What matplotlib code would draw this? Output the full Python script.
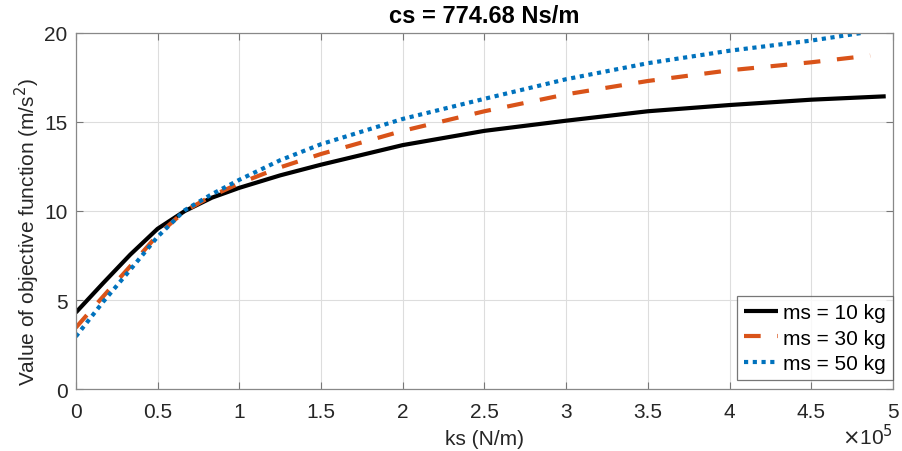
import numpy as np
import matplotlib.pyplot as plt

plt.rcParams['font.family'] = ['Liberation Sans', 'DejaVu Sans']

# ks in N/m (x10^5 axis)
ks = [0, 0.167e5, 0.333e5, 0.5e5, 0.667e5, 0.833e5, 1.0e5, 1.25e5, 1.5e5,
      2.0e5, 2.5e5, 3.0e5, 3.5e5, 4.0e5, 4.5e5]
obj_10 = [4.3, 5.95, 7.55, 9.0, 10.0, 10.75, 11.3, 12.0, 12.6,
          13.7, 14.5, 15.07, 15.6, 15.95, 16.25]
obj_30 = [3.45, 5.2, 6.9, 8.65, 10.0, 10.85, 11.55, 12.45, 13.2,
          14.5, 15.6, 16.55, 17.3, 17.9, 18.35]
obj_50 = [2.95, 4.9, 6.7, 8.55, 10.05, 10.95, 11.75, 12.85, 13.75,
          15.17, 16.3, 17.4, 18.3, 19.0, 19.57]

# last points of each curve
end_ks = [4.955e5, 4.86e5, 4.81e5]
end_obj = [16.44, 18.73, 20.0]

labels = ['ms = 10 kg', 'ms = 30 kg', 'ms = 50 kg']
colors = ['black', '#D95319', '#0072BD']

xticks = [0, 0.5, 1, 1.5, 2, 2.5, 3, 3.5, 4, 4.5, 5]
yticks = [0, 5, 10, 15, 20]

fig = plt.figure(figsize=(9.03, 4.52), dpi=100)
ax = fig.add_axes([0.084, 0.137, 0.905, 0.788])

series = [obj_10, obj_30, obj_50]
for i, s in enumerate(series):
    x = ks + [end_ks[i]]
    y = s + [end_obj[i]]
    if i == 0:
        ax.plot(x, y, color=colors[i], lw=3, label=labels[i], solid_capstyle='butt')
    elif i == 1:
        ax.plot(x, y, color=colors[i], lw=3, dashes=(4, 4), label=labels[i])
    else:
        ax.plot(x, y, color=colors[i], lw=3, dashes=(1, 1.1), label=labels[i])

ax.set_xlim(0, 5e5)
ax.set_ylim(0, 20)
ax.set_xticks([t * 1e5 for t in xticks])
ax.set_xticklabels([('%g' % t) for t in xticks])
ax.set_yticks(yticks)
ax.tick_params(direction='in', length=5, width=0.8, color='#777777',
               labelsize=15, labelcolor='#262626', top=True, right=True, pad=6)
ax.tick_params(axis='x', pad=9)
for sp in ax.spines.values():
    sp.set_color('#888888')
    sp.set_linewidth(0.9)
ax.grid(True, color='#dddddd', lw=0.8)
ax.set_axisbelow(True)

ax.set_title('cs = 774.68 Ns/m', fontsize=17, fontweight='bold', pad=8)
ax.set_xlabel('ks (N/m)', fontsize=15, color='#262626', labelpad=6)
ax.set_ylabel('Value of objective function (m/s$^2$)', fontsize=15, color='#262626')
ax.yaxis.set_label_coords(-0.041, 0.444)
ax.text(1.0, -0.155, r'$\times$10$^5$', transform=ax.transAxes, ha='right', va='baseline',
        fontsize=15, color='#262626')

leg = ax.legend(loc='lower right', bbox_to_anchor=(1.0, 0.025), fontsize=15,
                frameon=True, fancybox=False, borderaxespad=0, handlelength=1.6,
                handletextpad=0.25, labelspacing=0.3, borderpad=0.35)
leg.get_frame().set_edgecolor('#555555')
leg.get_frame().set_linewidth(0.9)

fig.savefig('out.png', dpi=100)
